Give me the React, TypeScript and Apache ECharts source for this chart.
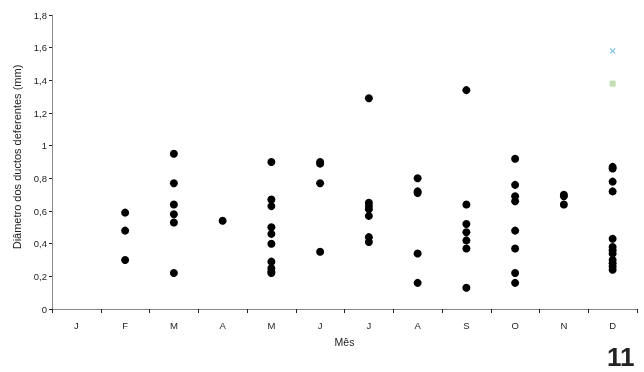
import React, { useEffect, useRef } from "react";
import * as echarts from "echarts";

const monthLabels = ["J", "F", "M", "A", "M", "J", "J", "A", "S", "O", "N", "D"];
const yTicks = { min: 0, max: 1.8, interval: 0.2 };

const janVals: number[] = [];
const febVals = [0.59, 0.48, 0.30];
const marVals = [0.95, 0.77, 0.64, 0.58, 0.53, 0.22];
const aprVals = [0.54];
const mayVals = [0.90, 0.67, 0.63, 0.50, 0.46, 0.40, 0.29, 0.25, 0.23, 0.22];
const junVals = [0.90, 0.89, 0.77, 0.35];
const julVals = [1.29, 0.65, 0.63, 0.61, 0.57, 0.44, 0.41];
const augVals = [0.80, 0.72, 0.71, 0.34, 0.16];
const sepVals = [1.34, 0.64, 0.52, 0.47, 0.42, 0.37, 0.13];
const octVals = [0.92, 0.76, 0.69, 0.66, 0.48, 0.37, 0.22, 0.16];
const novVals = [0.70, 0.69, 0.64];
const decVals = [0.87, 0.86, 0.78, 0.72, 0.43, 0.38, 0.36, 0.34, 0.30, 0.28, 0.26, 0.24];

const crossPoint = { month: 11, value: 1.58 };
const squarePoint = { month: 11, value: 1.38 };

const figureNumber = "11";

export default function App() {
  const ref = useRef<HTMLDivElement>(null);
  useEffect(() => {
    if (!ref.current) return;
    const chart = echarts.init(ref.current, null, { renderer: "svg" });
    const months = [janVals, febVals, marVals, aprVals, mayVals, junVals, julVals, augVals, sepVals, octVals, novVals, decVals];
    const points: [number, number][] = [];
    months.forEach((vals, i) => vals.forEach((v) => points.push([i, v])));
    const textColor = "#222";
    chart.setOption({
      animation: false,
      grid: { left: 52, right: 7, top: 15, bottom: 63 },
      xAxis: {
        type: "category",
        data: monthLabels,
        boundaryGap: true,
        name: "Mês",
        nameLocation: "middle",
        nameGap: 27,
        nameTextStyle: { fontFamily: "Liberation Sans", fontSize: 10.5, color: textColor },
        axisLine: { lineStyle: { color: "#888", width: 1 } },
        axisTick: { show: true, length: 4, lineStyle: { color: "#222" }, interval: 0 },
        axisLabel: { fontFamily: "Liberation Sans", fontSize: 9.5, color: textColor, margin: 11, interval: 0 },
        splitLine: { show: false },
      },
      yAxis: {
        type: "value",
        min: yTicks.min,
        max: yTicks.max,
        interval: yTicks.interval,
        name: "Diâmetro dos ductos deferentes (mm)",
        nameLocation: "middle",
        nameGap: 29,
        nameTextStyle: {
          fontFamily: "Liberation Sans",
          fontSize: 11,
          color: textColor,
          padding: [0, 0, 0, 10],
        },
        axisLine: { show: true, lineStyle: { color: "#888", width: 1 } },
        axisTick: { show: true, length: 3, lineStyle: { color: "#222" } },
        axisLabel: {
          fontFamily: "Liberation Sans",
          fontSize: 9.5,
          color: textColor,
          margin: 5,
          formatter: (v: number) => String(+v.toFixed(1)).replace(".", ","),
        },
        splitLine: { show: false },
      },
      series: [
        {
          type: "scatter",
          data: points,
          symbol: "circle",
          symbolSize: 8,
          itemStyle: { color: "#000", opacity: 1 },
        },
        {
          type: "scatter",
          data: [[crossPoint.month, crossPoint.value]],
          symbol: "path://M0,0L10,10M10,0L0,10",
          symbolSize: 5,
          itemStyle: { color: "transparent", borderColor: "#7cc4ee", borderWidth: 1.2, opacity: 1 },
        },
        {
          type: "scatter",
          data: [[squarePoint.month, squarePoint.value]],
          symbol: "rect",
          symbolSize: 6,
          itemStyle: { color: "#c4e0b2", opacity: 1 },
        },
      ],
      graphic: [
        {
          type: "text",
          left: 607,
          top: 344,
          style: {
            text: figureNumber,
            font: "bold 26px 'Liberation Sans'",
            fill: "#222",
          },
        },
      ],
    });
    return () => chart.dispose();
  }, []);
  return (
    <div
      ref={ref}
      style={{ position: "fixed", left: 0, top: 0, width: 644, height: 372 }}
    />
  );
}
